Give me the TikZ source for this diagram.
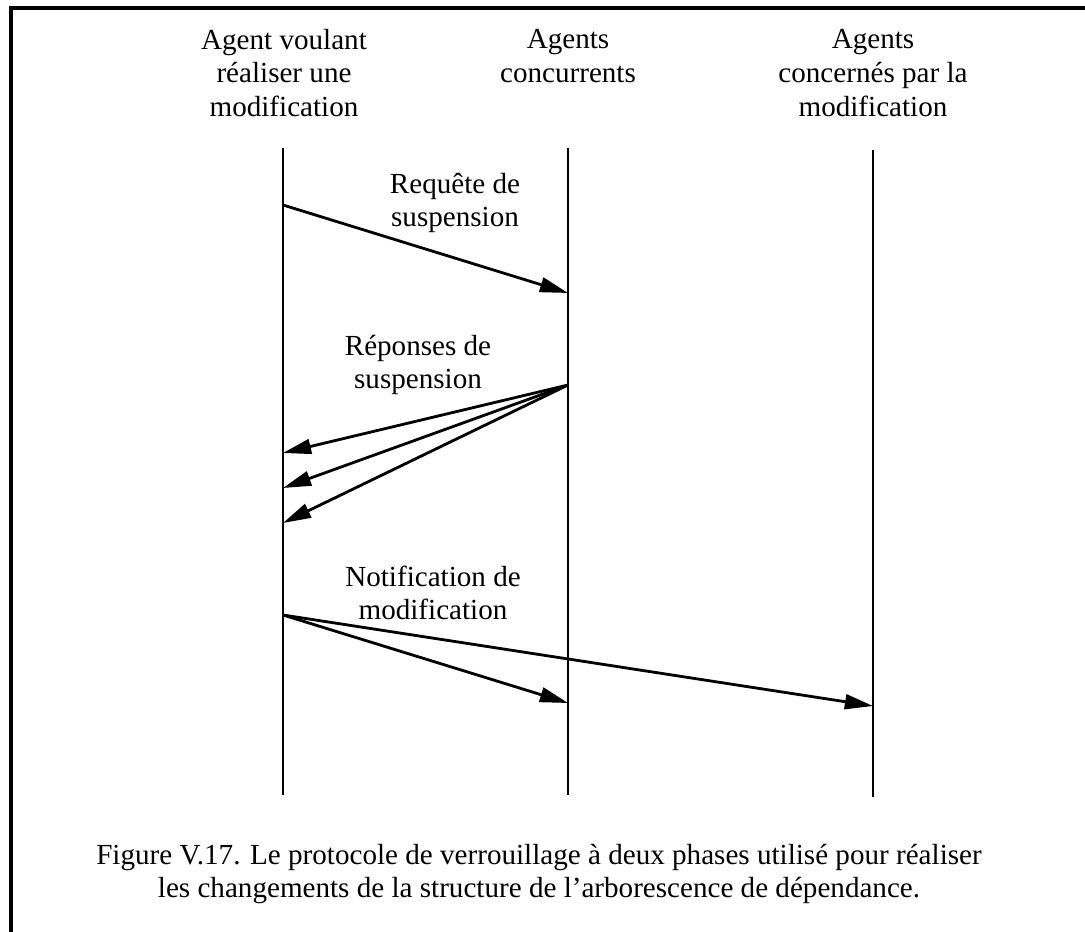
\documentclass[tikz,border=0pt]{standalone}
\usepackage{fontspec}
\setmainfont{Liberation Serif}
\usetikzlibrary{arrows.meta,positioning}

\begin{document}
\begin{tikzpicture}[
  x=0.025cm, y=-0.025cm,
  line cap=butt,
  line join=miter,
  >={Triangle[length=20pt,width=10.5pt]},
  life/.style={draw=black,line width=2pt},
  msg/.style={draw=black,line width=2pt,->},
  lbl/.style={align=center,font=\fontsize{20.7}{24}\selectfont,inner sep=0pt}
]
\useasboundingbox (0,0) rectangle (1085,932);

% scanned frame (left and top edges only)
\draw[line width=2.2pt] (11,932) -- (11,8) -- (1085,8);

% headers
\node[lbl] (hA) at (284,73) {Agent voulant\\réaliser une\\modification};
\node[lbl] (hB) at (568,56) {Agents\\concurrents};
\node[lbl] (hC) at (873,73) {Agents\\concernés par la\\modification};

% lifelines
\coordinate (A0) at (283,148); \coordinate (A1) at (283,795);
\coordinate (B0) at (568,148); \coordinate (B1) at (568,795);
\coordinate (C0) at (873,150); \coordinate (C1) at (873,797);
\draw[life] (A0) -- (A1);
\draw[life] (B0) -- (B1);
\draw[life] (C0) -- (C1);

% suspension request
\coordinate (rq) at (283,205);
\coordinate (rqB) at (568,293);
\draw[msg] (rq) -- (rqB);
\node[lbl] (tRq) at (455,203) {Requête de\\suspension};

% suspension answers
\coordinate (rp) at (568,385);
\coordinate (rpA1) at (283,453);
\coordinate (rpA2) at (283,488);
\coordinate (rpA3) at (283,523);
\draw[msg] (rp) -- (rpA1);
\draw[msg] (rp) -- (rpA2);
\draw[msg] (rp) -- (rpA3);
\node[lbl] (tRp) at (418,365) {Réponses de\\suspension};

% modification notice
\coordinate (nt) at (283,615);
\coordinate (ntB) at (568,703);
\coordinate (ntC) at (873,706);
\draw[msg] (nt) -- (ntB);
\draw[msg] (nt) -- (ntC);
\node[lbl] (tNt) at (433,593) {Notification de\\modification};

% caption
\node[lbl] (cap) at (539,874) {Figure V.17. Le protocole de verrouillage à deux phases utilisé pour réaliser\\les changements de la structure de l'arborescence de dépendance.};

\end{tikzpicture}
\end{document}
